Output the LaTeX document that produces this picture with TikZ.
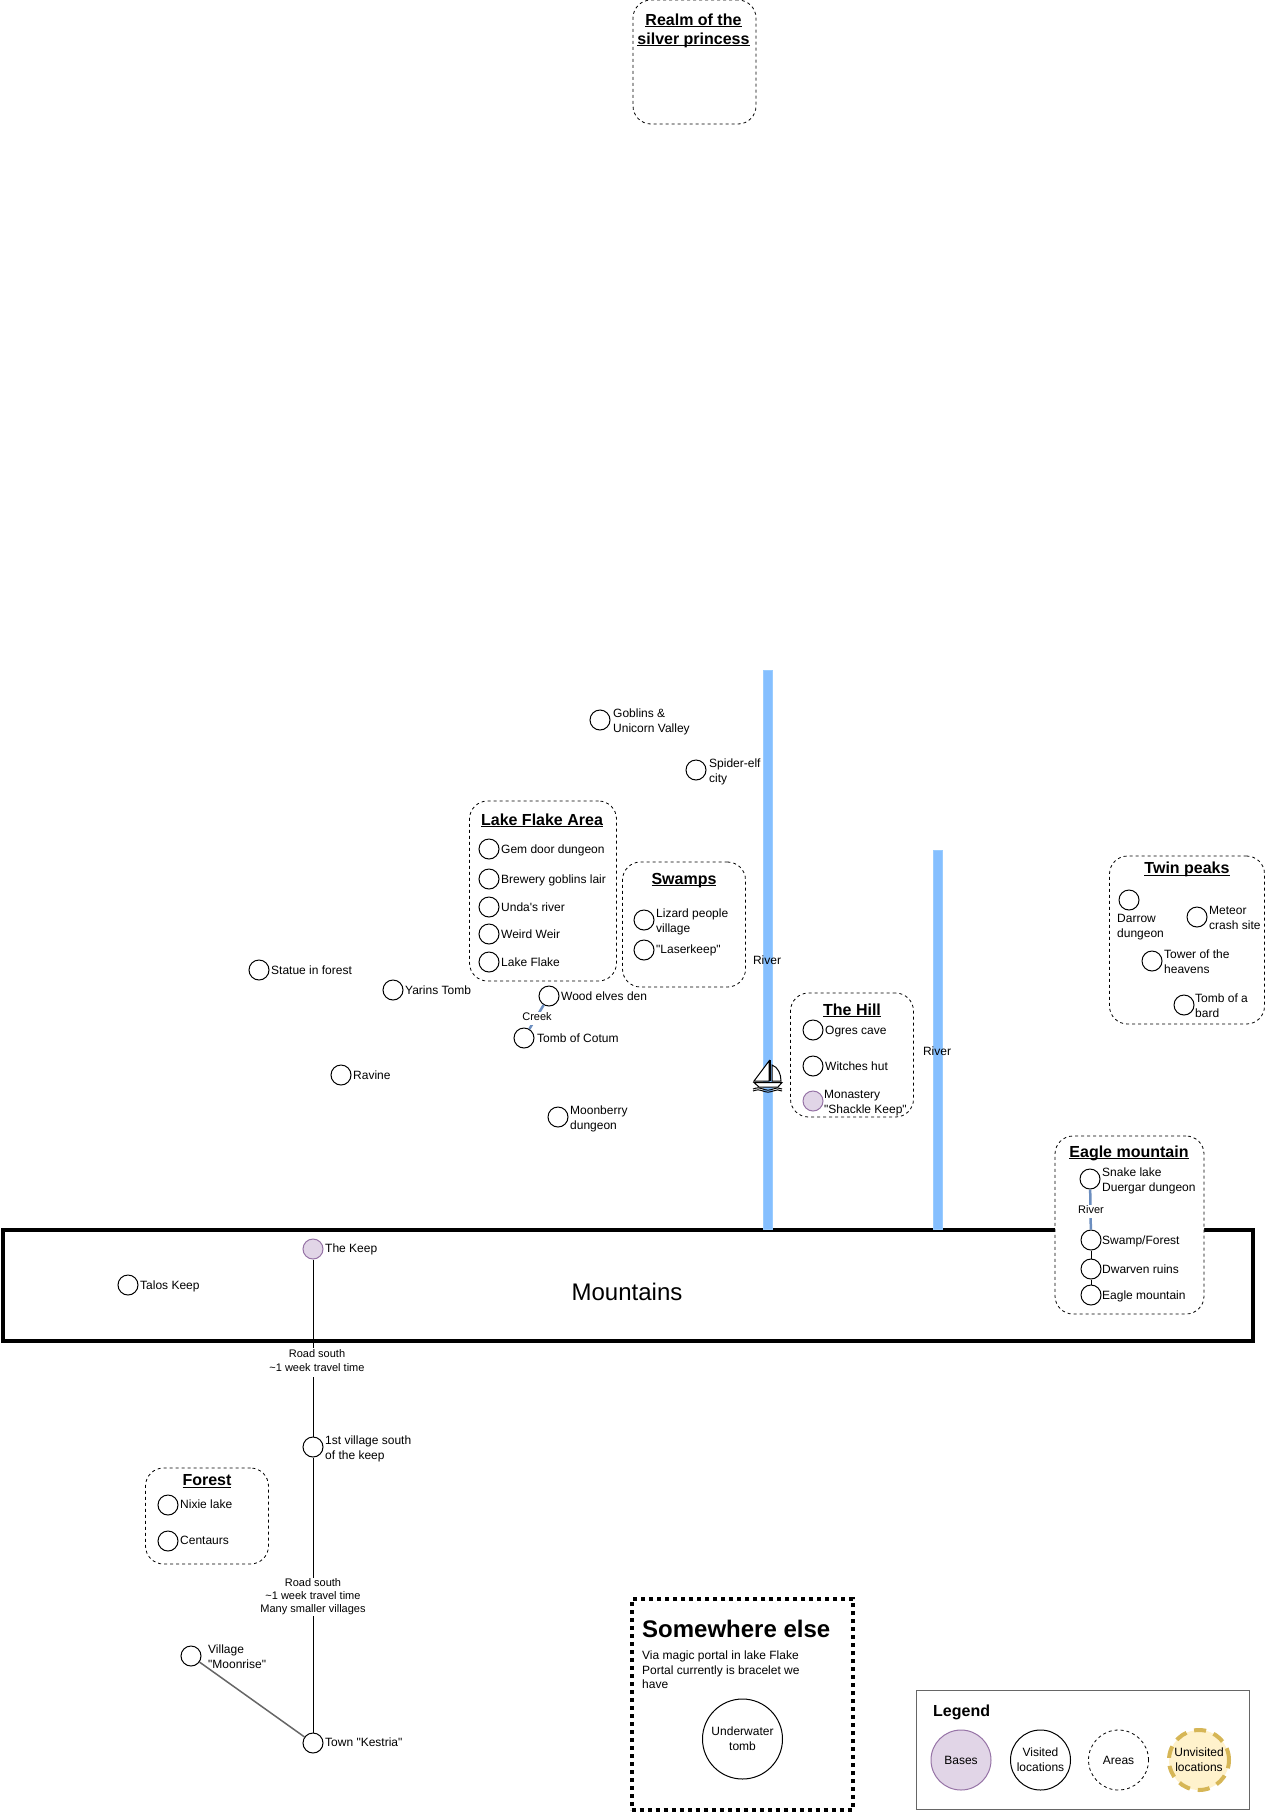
\documentclass[tikz,border=0pt]{standalone}
\usepackage{fontspec}
\newfontfamily\mapfont{Liberation Sans}
\definecolor{riverblue}{HTML}{85BFFF}
\definecolor{riveredge}{HTML}{99CCFF}
\definecolor{creekblue}{HTML}{6C8EBF}
\definecolor{basefill}{HTML}{E1D5E7}
\definecolor{baseedge}{HTML}{9673A6}
\definecolor{unvisitedfill}{HTML}{FFF2CC}
\definecolor{unvisitededge}{HTML}{D6B656}
\newcommand*{\ultitle}[1]{\setbox0\hbox{#1}\leavevmode\rlap{\rule[-2pt]{\wd0}{1pt}}\box0}
\tikzset{
    spot/.style={circle, draw, fill=white, line width=1pt, minimum size=20pt, inner sep=0pt},
    basespot/.style={spot, draw=baseedge, fill=basefill},
    maptext/.style={inner sep=0pt, align=left, execute at begin node=\strut, execute at end node=\strut},
    spottext/.style={maptext, anchor=west, yshift=-1pt, font=\mapfont\fontsize{12}{15}\selectfont},
    twolines/.style={spottext, yshift=-2pt},
    smalltext/.style={maptext, align=center, fill=white, font=\mapfont\fontsize{11}{13}\selectfont},
    areabox/.style={draw, fill=white, line width=.8pt, dash pattern=on 3pt off 3pt, rounded corners=18pt},
    areatitle/.style={maptext, align=center, yshift=-2.5pt, font=\mapfont\bfseries\fontsize{16}{19}\selectfont},
    riverbar/.style={draw=riveredge, fill=riverblue, line width=.8pt, minimum width=9pt, inner sep=0pt},
    keybubble/.style={circle, draw, line width=1pt, minimum size=60pt, inner sep=0pt, align=center, font=\mapfont\fontsize{12}{15}\selectfont},
}
\begin{document}
\begin{tikzpicture}[x=1pt, y=-1pt]
    \useasboundingbox(0, 0)rectangle(1276, 1812);
    % top area
    \node[areabox, minimum width=123pt, minimum height=124pt](realm)at(694.5, 62){};
    \node[areatitle](realmtitle)at(693.5, 29.5){\ultitle{Realm of the}\\\ultitle{silver princess}};
    % mountains and rivers
    \node[draw, fill=white, line width=4pt, minimum width=1250pt, minimum height=111pt, inner sep=0pt](mountains)at(628, 1285.5){};
    \node[font=\mapfont\fontsize{24}{28}\selectfont, inner sep=0pt](mountainstext)at(627, 1292){Mountains};
    \node[riverbar, minimum height=559pt](riverwest)at(767.5, 949.5){};
    \node[riverbar, minimum height=379pt](rivereast)at(937.5, 1039.5){};
    \node[spottext, anchor=center](riverwesttext)at(767, 960){River};
    \node[spottext, anchor=center](rivereasttext)at(937, 1051){River};
    \begin{scope}[shift={(745, 1050)}, line width=1pt]
        \draw[fill=white](9, 31)--(24, 11)--(24, 31)--cycle;
        \draw[fill=white](27, 15)..controls(33, 17)and(36, 24)..(36, 31)--(27, 31)--cycle;
        \draw[line width=1.5pt](25, 10)--(25, 31);
        \draw[fill=white](9, 32.5)--(37, 32.5)--(33, 37)--(14, 37)--cycle;
        \draw(8, 39)..controls(12, 37.5)and(14, 37.5)..(18, 39)..controls(22, 40.5)and(24, 40.5)..(28, 39)..controls(31, 37.5)and(34, 37.5)..(37, 39);
        \draw(8, 41)..controls(12, 39.5)and(14, 39.5)..(18, 41)..controls(22, 42.5)and(24, 42.5)..(28, 41)..controls(31, 39.5)and(34, 39.5)..(37, 41);
    \end{scope}
    % north
    \node[spot](goblins)at(600, 720){};
    \node[twolines](goblinstext)at(613, 720){Goblins \&\\Unicorn Valley};
    \node[spot](spiderelf)at(696, 770){};
    \node[twolines](spiderelftext)at(709, 770){Spider-elf\\city};
    % lake flake
    \node[areabox, minimum width=147pt, minimum height=180pt](lakearea)at(543, 891){};
    \node[areatitle](laketitle)at(542, 819){\ultitle{Lake Flake Area}};
    \node[spot](gemdoor)at(489, 849){};
    \node[spottext](gemdoortext)at(501, 849){Gem door dungeon};
    \node[spot](brewery)at(489, 879){};
    \node[spottext](brewerytext)at(501, 879){Brewery goblins lair};
    \node[spot](undas)at(489, 907){};
    \node[spottext](undastext)at(501, 907){Unda's river};
    \node[spot](weird)at(489, 934){};
    \node[spottext](weirdtext)at(501, 934){Weird Weir};
    \node[spot](lakeflake)at(489, 962){};
    \node[spottext](lakeflaketext)at(501, 962){Lake Flake};
    % swamps
    \node[areabox, minimum width=123pt, minimum height=125pt](swamparea)at(684, 924.5){};
    \node[areatitle](swamptitle)at(684, 878){\ultitle{Swamps}};
    \node[spot](lizard)at(644, 920){};
    \node[twolines](lizardtext)at(656, 920){Lizard people\\village};
    \node[spot](laserkeep)at(644, 950){};
    \node[spottext](laserkeeptext)at(656, 949.5){"Laserkeep"};
    % the hill
    \node[areabox, minimum width=123pt, minimum height=124pt](hillarea)at(852, 1055){};
    \node[areatitle](hilltitle)at(852, 1009){\ultitle{The Hill}};
    \node[spot](ogres)at(813, 1030){};
    \node[spottext](ogrestext)at(825, 1030){Ogres cave};
    \node[spot](witches)at(813, 1066){};
    \node[spottext](witchestext)at(825, 1066){Witches hut};
    \node[basespot](monastery)at(813, 1101){};
    \node[twolines](monasterytext)at(824, 1101){Monastery\\"Shackle Keep"};
    % forest spots
    \node[spot](statue)at(259, 970){};
    \node[spottext](statuetext)at(271, 970){Statue in forest};
    \node[spot](yarins)at(393, 990){};
    \node[spottext](yarinstext)at(405, 990){Yarins Tomb};
    \node[spot](ravine)at(341, 1075){};
    \node[spottext](ravinetext)at(353, 1075){Ravine};
    \node[spot](woodelves)at(549, 996){};
    \node[spottext](woodelvestext)at(561, 996){Wood elves den};
    \node[spot](cotum)at(524, 1038){};
    \node[spottext](cotumtext)at(537, 1038){Tomb of Cotum};
    \draw[creekblue, line width=2.5pt](woodelves)--(cotum);
    \node[smalltext](creek)at(537, 1018){Creek};
    \node[spot](moonberry)at(558, 1117){};
    \node[twolines](moonberrytext)at(570, 1117){Moonberry\\dungeon};
    % twin peaks
    \node[areabox, minimum width=155pt, minimum height=168pt](twinarea)at(1187, 940){};
    \node[areatitle](twintitle)at(1187, 867.5){\ultitle{Twin peaks}};
    \node[spot](darrow)at(1129, 900){};
    \node[twolines](darrowtext)at(1117, 925){Darrow\\dungeon};
    \node[spot](meteor)at(1197, 917){};
    \node[twolines](meteortext)at(1209, 917){Meteor\\crash site};
    \node[spot](tower)at(1152, 961){};
    \node[twolines](towertext)at(1164, 961){Tower of the\\heavens};
    \node[spot](bard)at(1184, 1005){};
    \node[twolines](bardtext)at(1195, 1005){Tomb of a\\bard};
    % eagle mountain
    \node[areabox, minimum width=149pt, minimum height=178pt](eaglearea)at(1129.5, 1225){};
    \node[areatitle](eagletitle)at(1129, 1151){\ultitle{Eagle mountain}};
    \node[spot](snake)at(1090, 1179){};
    \node[twolines](snaketext)at(1102, 1179){Snake lake\\Duergar dungeon};
    \node[spot](swampforest)at(1091, 1240){};
    \node[spottext](swampforesttext)at(1102, 1240){Swamp/Forest};
    \node[spot](dwarven)at(1091, 1269){};
    \node[spottext](dwarventext)at(1102, 1269){Dwarven ruins};
    \node[spot](eaglemt)at(1091, 1295){};
    \node[spottext](eaglemttext)at(1102, 1295){Eagle mountain};
    \draw[creekblue, line width=2.5pt](snake)--(swampforest);
    \draw[line width=1pt](swampforest)--(dwarven);
    \draw[line width=1pt](dwarven)--(eaglemt);
    \node[smalltext](eagleriver)at(1091, 1211){River};
    % road south
    \node[basespot](keep)at(313, 1249){};
    \node[spottext](keeptext)at(325, 1248){The Keep};
    \node[spot](talos)at(128, 1285){};
    \node[spottext](talostext)at(140, 1285){Talos Keep};
    \node[spot](firstvillage)at(313, 1447){};
    \node[twolines](firstvillagetext)at(325, 1447){1st village south\\of the keep};
    \node[spot](kestria)at(313, 1743){};
    \node[spottext](kestriatext)at(325, 1742){Town "Kestria"};
    \node[spot](moonrise)at(191, 1656){};
    \node[twolines](moonrisetext)at(208, 1656){Village\\"Moonrise"};
    \draw[line width=1pt](keep)--(firstvillage);
    \draw[line width=1pt](firstvillage)--(kestria);
    \draw[black!60, line width=1.5pt](moonrise)--(kestria);
    \node[smalltext, font=\mapfont\fontsize{11}{14}\selectfont, inner ysep=1.5pt](roadone)at(317, 1362.5){Road south\\\textasciitilde1 week travel time};
    \node[smalltext](roadtwo)at(313, 1597){Road south\\\textasciitilde1 week travel time\\Many smaller villages};
    % forest
    \node[areabox, minimum width=123pt, minimum height=96pt](forestarea)at(207, 1516){};
    \node[areatitle](foresttitle)at(207, 1479.5){\ultitle{Forest}};
    \node[spot](nixie)at(168, 1505){};
    \node[spottext](nixietext)at(180, 1504){Nixie lake};
    \node[spot](centaurs)at(168, 1541){};
    \node[spottext](centaurstext)at(180, 1540){Centaurs};
    % somewhere else
    \node[draw, line width=4pt, dash pattern=on 4pt off 4pt, minimum width=221pt, minimum height=211pt, inner sep=0pt](somewhere)at(742, 1704.5){};
    \node[anchor=west, inner sep=0pt, font=\mapfont\bfseries\fontsize{24}{28}\selectfont](somewheretitle)at(642, 1629){Somewhere else};
    \node[spottext, anchor=north west, font=\mapfont\fontsize{12}{14.5}\selectfont](somewheretext)at(642, 1650){Via magic portal in lake Flake\\Portal currently is bracelet we\\have};
    \node[keybubble, minimum size=80pt](underwater)at(742.5, 1739){Underwater\\tomb};
    % legend
    \node[draw=black!60, line width=1pt, minimum width=333pt, minimum height=119pt, inner sep=0pt](legend)at(1083, 1749.5){};
    \node[anchor=west, inner sep=0pt, font=\mapfont\bfseries\fontsize{16}{19}\selectfont](legendtitle)at(933, 1712){Legend};
    \node[keybubble, draw=baseedge, fill=basefill](keybases)at(961, 1760){Bases};
    \node[keybubble](keyvisited)at(1040.5, 1760){Visited\\locations};
    \node[keybubble, line width=.8pt, dash pattern=on 3pt off 3pt](keyareas)at(1118.5, 1760){Areas};
    \node[keybubble, draw=unvisitededge, fill=unvisitedfill, line width=4pt, dash pattern=on 12pt off 8pt](keyunvisited)at(1199, 1760){Unvisited\\locations};
\end{tikzpicture}
\end{document}
